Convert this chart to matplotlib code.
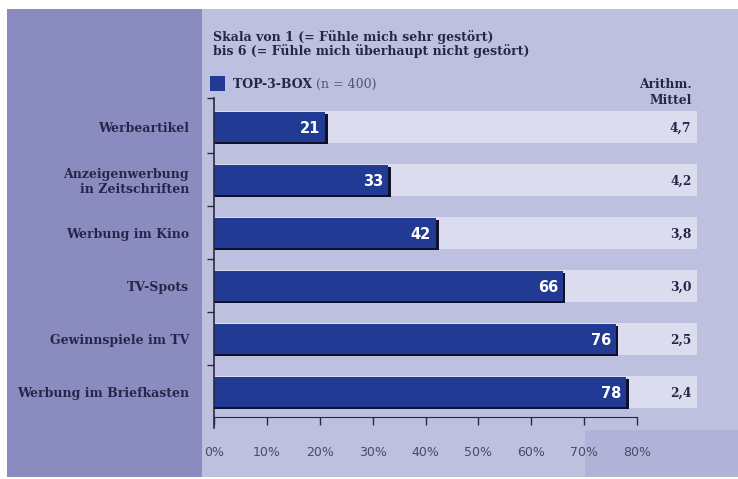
import numpy as np
import matplotlib.pyplot as plt
from matplotlib.patches import Rectangle

# Daten
kategorien = ["Werbeartikel", "Anzeigenwerbung\nin Zeitschriften", "Werbung im Kino",
              "TV-Spots", "Gewinnspiele im TV", "Werbung im Briefkasten"]
top3box = [21, 33, 42, 66, 76, 78]
mittel = ["4,7", "4,2", "3,8", "3,0", "2,5", "2,4"]
x_ticks = [0, 10, 20, 30, 40, 50, 60, 70, 80]

W, H = 738, 479
col_links = "#8a8cc0"
col_rechts = "#bec0e0"
col_streifen = "#dcdcef"
col_balken = "#213a94"
col_text = "#26264a"
fs = 9

fig = plt.figure(figsize=(W / 100, H / 100), dpi=100)
fig.patch.set_facecolor("white")

def px(x0, y0, x1, y1):
    # Pixelrechteck (oben links / unten rechts) in Figure-Koordinaten
    return (x0 / W, 1 - y1 / H), (x1 - x0) / W, (y1 - y0) / H

for (x0, y0, x1, y1), c in [((7, 9, 202, 477), col_links),
                            ((202, 9, 738, 477), col_rechts),
                            ((585, 430, 738, 477), "#b1b3d9")]:
    xy, w, h = px(x0, y0, x1, y1)
    fig.patches.append(Rectangle(xy, w, h, transform=fig.transFigure,
                                 facecolor=c, edgecolor="none", zorder=0))

ax = fig.add_axes([214 / W, 62 / H, 486 / W, 319 / H])
ax.set_zorder(2)
ax.set_facecolor("none")
xmax = 486 / 5.2875
ax.set_xlim(0, xmax)
y_unten, y_oben = 5.472, -0.547
ax.set_ylim(y_unten, y_oben)

pos = np.arange(len(kategorien))
ux = xmax / 486   # Dateneinheiten pro Pixel (x)
uy = 1 / 53       # Dateneinheiten pro Pixel (y)

# helle Hintergrundstreifen
ax.barh(pos, 91.4, height=0.6, color=col_streifen, zorder=1)
# Schatten + Balken
ax.barh(pos + 2 * uy, np.array(top3box) + 2.5 * ux, height=0.55, color="#10102a", zorder=2)
ax.barh(pos, top3box, height=0.55, color=col_balken, zorder=3)

for p, v, m in zip(pos, top3box, mittel):
    ax.text(v - 5 * ux, p + 0.02, str(v), color="white", fontsize=10.5,
            fontweight="bold", ha="right", va="center", zorder=4)
    ax.text(90.3, p + 0.02, m, color=col_text, fontsize=8.8, family="DejaVu Serif",
            fontweight="bold", ha="right", va="center", zorder=4)

# Achsen
for s in ["top", "right", "left"]:
    ax.spines[s].set_visible(False)
ax.spines["bottom"].set_bounds(0, 80)
ax.spines["bottom"].set_color("#2a2a3a")
ax.plot([0, 0], [y_oben, y_unten + 11 * uy], color="#2a2a3a", lw=1.2,
        clip_on=False, zorder=5)

ax.set_xticks(x_ticks)
ax.set_xticklabels([f"{t}%" for t in x_ticks], color="#4a4a62", fontsize=9)
ax.tick_params(axis="x", length=6, width=1, color="#2a2a3a", pad=15)

ax.set_yticks(pos)
ax.set_yticklabels(kategorien, family="DejaVu Serif", fontweight="bold",
                   fontsize=fs, color=col_text)
ax.tick_params(axis="y", which="major", length=0, pad=18)
ax.set_yticks([y_oben] + list(pos[:-1] + 0.5), minor=True)
ax.tick_params(axis="y", which="minor", length=5, width=1, color="#2a2a3a")

# Titel
fig.text(213 / W, 1 - 37 / H, "Skala von 1 (= Fühle mich sehr gestört)",
         family="DejaVu Serif", fontweight="bold", fontsize=fs, color=col_text, va="center")
fig.text(213 / W, 1 - 51 / H, "bis 6 (= Fühle mich überhaupt nicht gestört)",
         family="DejaVu Serif", fontweight="bold", fontsize=fs, color=col_text, va="center")

# Legende
xy, w, h = px(210, 76, 225, 91)
fig.patches.append(Rectangle(xy, w, h, transform=fig.transFigure,
                             facecolor=col_balken, edgecolor="none", zorder=3))
t1 = fig.text(233 / W, 1 - 84 / H, "TOP-3-BOX ", family="DejaVu Serif",
              fontweight="bold", fontsize=fs, color=col_text, va="center")
ax.annotate("(n = 400)", xy=(1, 0.5), xycoords=t1, va="center", ha="left",
            fontsize=fs, color="#55556a", family="DejaVu Serif",
            annotation_clip=False)

fig.text(692 / W, 1 - 84 / H, "Arithm.", family="DejaVu Serif", fontweight="bold",
         fontsize=8.8, color=col_text, ha="right", va="center")
fig.text(692 / W, 1 - 101 / H, "Mittel", family="DejaVu Serif", fontweight="bold",
         fontsize=8.8, color=col_text, ha="right", va="center")

fig.savefig("out.png", dpi=100)
